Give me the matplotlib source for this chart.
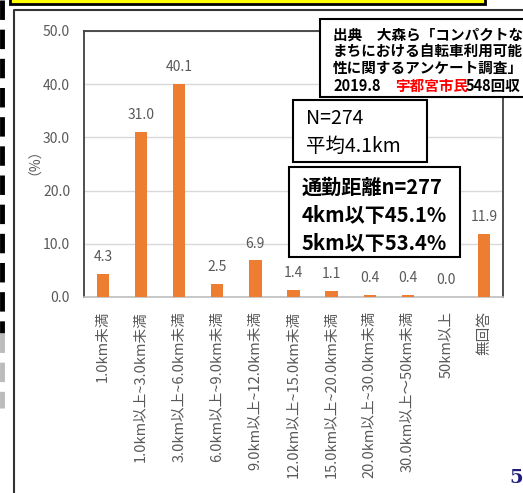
import numpy as np
import matplotlib.pyplot as plt
from matplotlib.patches import Rectangle
from matplotlib.lines import Line2D

# Commute distance distribution (%)
categories = ['1.0km未満', '1.0km以上~3.0km未満', '3.0km以上~6.0km未満',
              '6.0km以上~9.0km未満', '9.0km以上~12.0km未満', '12.0km以上~15.0km未満',
              '15.0km以上~20.0km未満', '20.0km以上~30.0km未満', '30.0km以上～50km未満',
              '50km以上', '無回答']
values = [4.3, 31.0, 40.1, 2.5, 6.9, 1.4, 1.1, 0.4, 0.4, 0.0, 11.9]
y_ticks = [0, 10, 20, 30, 40, 50]

source_lines = ['出典　大森ら「コンパクトな', 'まちにおける自転車利用可能', '性に関するアンケート調査」']
summary_lines = ['N=274', '平均4.1km']
commute_lines = ['通勤距離n=277', '4km以下45.1%', '5km以下53.4%']

W, H = 523, 493
plt.rcParams['font.family'] = ['Noto Sans CJK JP', 'DejaVu Sans']

BAR_COLOR = '#ED7D31'
TEXT_GRAY = '#595959'


def fx(x):
    return x / W


def fy(y):
    return 1 - y / H


def box(fig, x0, y0, x1, y1, lw=1.5, fc='white', ec='black', z=5):
    fig.patches.append(Rectangle((fx(x0), fy(y1)), fx(x1) - fx(x0), fy(y0) - fy(y1),
                                 transform=fig.transFigure, fc=fc, ec=ec, lw=lw,
                                 zorder=z, clip_on=False))


fig = plt.figure(figsize=(W / 100, H / 100), dpi=100)
fig.patch.set_facecolor('white')

# slide decorations: yellow title strip, dashed margin line, chart frame
box(fig, 10, -20, 485, 4, lw=2, fc='#FFFF00', z=1)
fig.lines.append(Line2D([fx(2), fx(2)], [fy(0), fy(333)], transform=fig.transFigure,
                        color='black', lw=3.5, linestyle=(0, (4, 2))))
fig.lines.append(Line2D([fx(2), fx(2)], [fy(333), fy(408)], transform=fig.transFigure,
                        color='#BBBBBB', lw=3.5, linestyle=(0, (4, 2))))
fig.lines.append(Line2D([fx(14), fx(14), fx(530)], [fy(500), fy(10), fy(10)],
                        transform=fig.transFigure, color='#333333', lw=1.5))

ax = fig.add_axes([fx(84), fy(297), fx(503) - fx(84), fy(31) - fy(297)])
x = np.arange(len(categories))
ax.bar(x, values, width=0.32, color=BAR_COLOR, zorder=3)

for xi, v in zip(x, values):
    ax.annotate(f'{v:.1f}', (xi, v), xytext=(0, 7), textcoords='offset points',
                ha='center', va='bottom', fontsize=10, color=TEXT_GRAY)

ax.set_xlim(-0.5, len(categories) - 0.5)
ax.set_ylim(0, 50)
ax.set_yticks(y_ticks)
ax.set_yticklabels([f'{t:.1f}' for t in y_ticks], fontsize=10, color=TEXT_GRAY)
ax.set_xticks(x)
ax.set_xticklabels(categories, rotation=90, fontsize=10.5, color=TEXT_GRAY)
ax.tick_params(axis='both', length=0)
ax.tick_params(axis='y', pad=10)
ax.tick_params(axis='x', pad=10)
ax.yaxis.grid(True, color='#D9D9D9', lw=1, zorder=0)
ax.set_axisbelow(True)
for side in ['top', 'left', 'right']:
    ax.spines[side].set_color('#404040')
    ax.spines[side].set_linewidth(1.3)
ax.spines['bottom'].set_color('#BFBFBF')
ax.spines['bottom'].set_linewidth(1.2)

fig.text(fx(28), fy(155), '（%）', rotation=90, ha='center', va='center',
         fontsize=10, color=TEXT_GRAY)

# source box
box(fig, 320, 19, 540, 97)
for i, line in enumerate(source_lines):
    fig.text(fx(333), fy(35 + i * 16.5), line, fontsize=10.5, fontweight='bold',
             va='center', ha='left', zorder=6)
fig.text(fx(333), fy(86), '2019.8', fontsize=10.5, fontweight='bold', va='center', zorder=6)
fig.text(fx(395), fy(86), '宇都宮市民', fontsize=10.5, fontweight='bold', color='#FF0000',
         va='center', zorder=6)
fig.text(fx(466), fy(86), '548回収', fontsize=10.5, fontweight='bold', va='center', zorder=6)

# sample size / mean box
box(fig, 293, 100, 427, 162)
for i, line in enumerate(summary_lines):
    fig.text(fx(306), fy(119 + i * 27), line, fontsize=14, va='center', zorder=6)

# commute distance box
box(fig, 289, 167, 460, 257)
for i, line in enumerate(commute_lines):
    fig.text(fx(302), fy(187 + i * 28), line, fontsize=14.5, fontweight='bold',
             va='center', zorder=6)

# page number
fig.text(fx(516), fy(478), '5', fontsize=14, fontweight='bold', family='DejaVu Serif',
         color='#1F1F7A', ha='center', va='center')

fig.savefig('out.png', dpi=100)
